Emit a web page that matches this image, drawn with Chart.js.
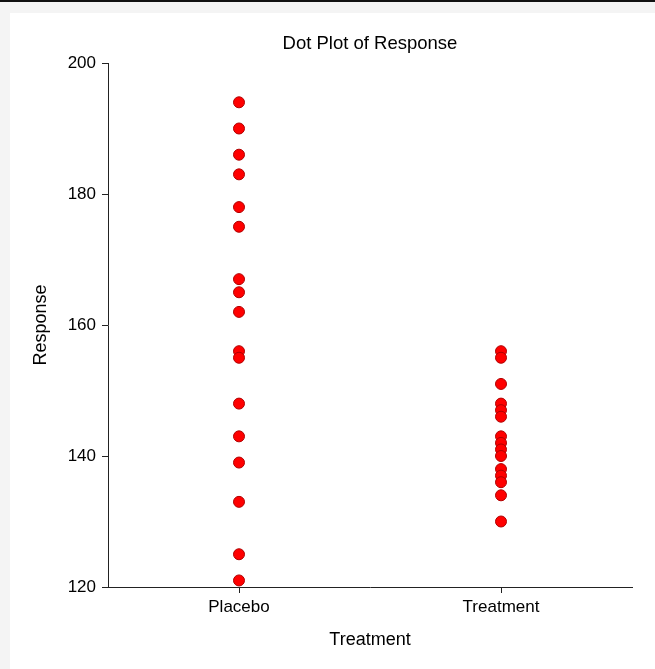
<!DOCTYPE html>
<html>
<head>
<meta charset="utf-8">
<title>Dot Plot of Response</title>
<script src="https://cdn.jsdelivr.net/npm/chart.js@4.4.1/dist/chart.umd.min.js"></script>
<style>
  html, body { margin: 0; padding: 0; }
  body { background: #f4f4f4; border-top: 2px solid #111; height: 667px; overflow: hidden; }
  #wrap { position: absolute; left: 10px; top: 13px; width: 645px; height: 656px; background: #fff; }
</style>
</head>
<body>
<div id="wrap"><canvas id="dotPlot"></canvas></div>
<script>
var groups = ['Placebo', 'Treatment'];
var placebo = [194, 190, 186, 183, 178, 175, 167, 165, 162, 156, 155, 148, 143, 139, 133, 125, 121];
var treatment = [156, 155, 151, 148, 147, 146, 143, 142, 141, 140, 138, 137, 136, 134, 130];
var yTicks = [120, 140, 160, 180, 200];

var fontFamily = '"Liberation Sans", Arial, sans-serif';

function toPoints(group, values) {
    return values.map(function (v) { return { x: group, y: v }; });
}

// title centred over the plot area rather than the whole canvas
var plotTitle = {
    id: 'plotTitle',
    afterDraw: function (chart) {
        var ctx = chart.ctx;
        var area = chart.chartArea;
        ctx.save();
        ctx.font = '18.5px ' + fontFamily;
        ctx.fillStyle = '#000';
        ctx.textAlign = 'center';
        ctx.textBaseline = 'middle';
        ctx.fillText('Dot Plot of Response', (area.left + area.right) / 2, area.top - 19);
        ctx.restore();
    }
};

var dotStyle = {
    showLine: false,
    pointRadius: 5.5,
    pointHoverRadius: 5.5,
    pointBorderWidth: 1,
    backgroundColor: '#ff0000',
    borderColor: '#b00000'
};

var ctx = document.getElementById('dotPlot');
var dotPlot = new Chart(ctx, {
    type: 'scatter',
    data: {
        labels: groups,
        datasets: [
            Object.assign({ label: groups[0], data: toPoints(groups[0], placebo) }, dotStyle),
            Object.assign({ label: groups[1], data: toPoints(groups[1], treatment) }, dotStyle)
        ]
    },
    options: {
        responsive: true,
        maintainAspectRatio: false,
        animation: false,
        layout: { padding: { top: 50, right: 23, bottom: 0, left: 0 } },
        plugins: {
            legend: { display: false },
            tooltip: { enabled: false },
            title: { display: false }
        },
        scales: {
            x: {
                type: 'category',
                labels: groups,
                offset: true,
                grid: { drawOnChartArea: false, drawTicks: true, tickLength: 6, color: '#222' },
                border: { display: true, color: '#222', width: 1 },
                ticks: { color: '#000', padding: 4, font: { family: fontFamily, size: 17 } },
                title: {
                    display: true,
                    text: 'Treatment',
                    color: '#000',
                    padding: { top: 0, bottom: 18 },
                    font: { family: fontFamily, size: 18 }
                },
                afterFit: function (scale) { scale.height = 82; }
            },
            y: {
                min: yTicks[0],
                max: yTicks[yTicks.length - 1],
                grid: { drawOnChartArea: false, drawTicks: true, tickLength: 6, color: '#222' },
                border: { display: true, color: '#222', width: 1 },
                ticks: { stepSize: 20, color: '#000', padding: 6, font: { family: fontFamily, size: 17 } },
                title: {
                    display: true,
                    text: 'Response',
                    color: '#000',
                    padding: { top: 20, bottom: 0 },
                    font: { family: fontFamily, size: 18 }
                },
                afterFit: function (scale) { scale.width = 98; }
            }
        }
    },
    plugins: [plotTitle]
});
</script>
</body>
</html>
